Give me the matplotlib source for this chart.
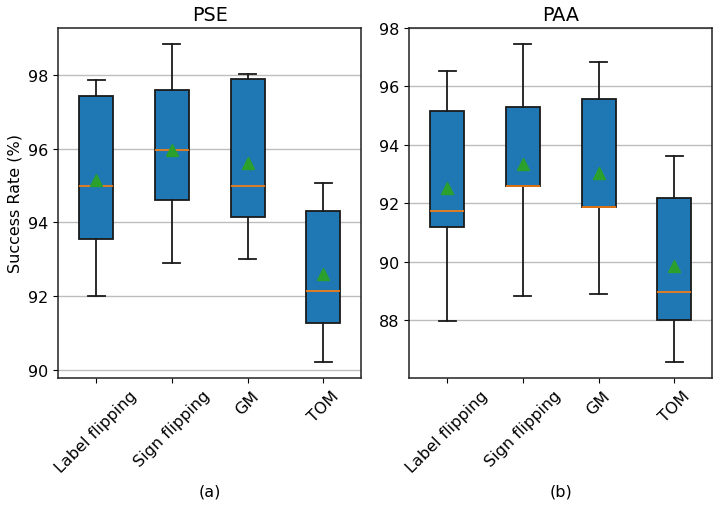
import matplotlib
matplotlib.use("Agg")
import matplotlib.pyplot as plt

categories = ["Label flipping", "Sign flipping", "GM", "TOM"]

# PSE box statistics (whislo, q1, med, q3, whishi, mean)
pse_whislo = [92.00, 92.91, 93.01, 90.22]
pse_q1 = [93.54, 94.60, 94.16, 91.29]
pse_med = [95.00, 95.95, 95.00, 92.14]
pse_q3 = [97.42, 97.58, 97.89, 94.30]
pse_whishi = [97.85, 98.84, 98.01, 95.07]
pse_mean = [95.15, 95.97, 95.61, 92.61]

# PAA box statistics
paa_whislo = [87.99, 88.82, 88.89, 86.57]
paa_q1 = [91.18, 92.59, 91.88, 88.02]
paa_med = [91.72, 92.60, 91.89, 88.97]
paa_q3 = [95.16, 95.29, 95.57, 92.17]
paa_whishi = [96.51, 97.44, 96.84, 93.62]
paa_mean = [92.51, 93.35, 93.03, 89.87]


def make_stats(lo, q1, med, q3, hi, mean):
    return [dict(whislo=a, q1=b, med=c, q3=d, whishi=e, mean=f, fliers=[], label=lab)
            for a, b, c, d, e, f, lab in zip(lo, q1, med, q3, hi, mean, categories)]


plt.rcParams["font.size"] = 11.5
plt.rcParams["axes.linewidth"] = 1.1
plt.rcParams["axes.edgecolor"] = "#222222"

fig, axes = plt.subplots(1, 2, figsize=(7.18, 5.06), dpi=100)
fig.subplots_adjust(left=0.081, right=0.992, top=0.943, bottom=0.251, wspace=0.158)

panels = [
    ("PSE", "(a)", make_stats(pse_whislo, pse_q1, pse_med, pse_q3, pse_whishi, pse_mean)),
    ("PAA", "(b)", make_stats(paa_whislo, paa_q1, paa_med, paa_q3, paa_whishi, paa_mean)),
]

line_kw = dict(color="#1a1a1a", linewidth=1.3)

for ax, (title, xlab, stats) in zip(axes, panels):
    ax.bxp(stats, showmeans=True, patch_artist=True, widths=0.45,
           boxprops=dict(facecolor="C0", edgecolor="#1a1a1a", linewidth=1.3),
           whiskerprops=line_kw, capprops=line_kw,
           medianprops=dict(color="C1", linewidth=1.2),
           meanprops=dict(marker="^", markerfacecolor="C2", markeredgecolor="C2", markersize=8))
    ax.set_title(title)
    ax.set_xlabel(xlab, labelpad=6)
    ax.yaxis.grid(True, color="#bdbdbd", linewidth=1.0)
    ax.set_axisbelow(True)
    ax.tick_params(axis="x", rotation=45)

axes[0].set_ylabel("Success Rate (%)")
axes[0].set_yticks([90, 92, 94, 96, 98])
axes[1].set_yticks([88, 90, 92, 94, 96, 98])

fig.savefig("out.png", dpi=100)
